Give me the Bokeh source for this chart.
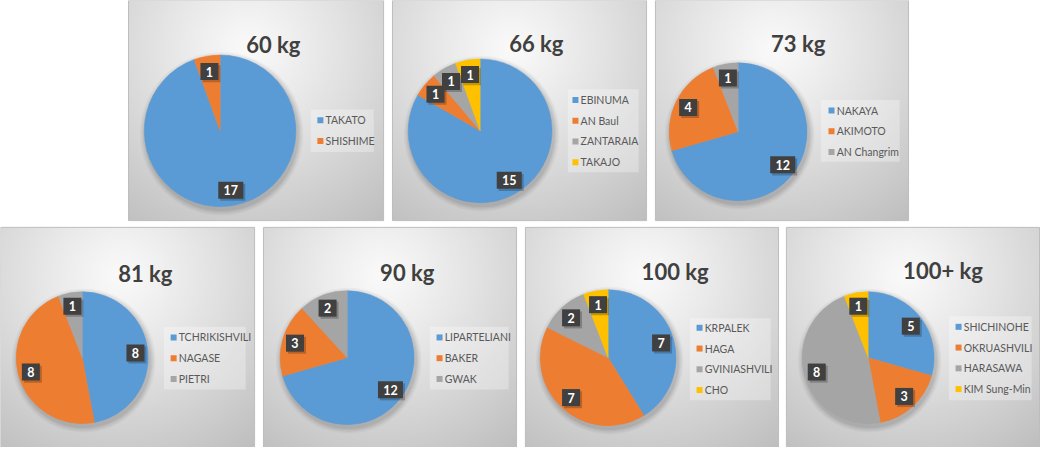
import numpy as np
from bokeh.plotting import figure
from bokeh.models import Range1d, ColumnDataSource
from bokeh.core.properties import value
from bokeh.embed import file_html
from bokeh.resources import INLINE

# ---------------- data ----------------
titles = ["60 kg", "66 kg", "73 kg", "81 kg", "90 kg", "100 kg", "100+ kg"]

names_60 = ["TAKATO", "SHISHIME"]
wins_60 = [17, 1]
names_66 = ["EBINUMA", "AN Baul", "ZANTARAIA", "TAKAJO"]
wins_66 = [15, 1, 1, 1]
names_73 = ["NAKAYA", "AKIMOTO", "AN Changrim"]
wins_73 = [12, 4, 1]
names_81 = ["TCHRIKISHVILI", "NAGASE", "PIETRI"]
wins_81 = [8, 8, 1]
names_90 = ["LIPARTELIANI", "BAKER", "GWAK"]
wins_90 = [12, 3, 2]
names_100 = ["KRPALEK", "HAGA", "GVINIASHVILI", "CHO"]
wins_100 = [7, 7, 2, 1]
names_100p = ["SHICHINOHE", "OKRUASHVILI", "HARASAWA", "KIM Sung-Min"]
wins_100p = [5, 3, 8, 1]

all_names = [names_60, names_66, names_73, names_81, names_90, names_100, names_100p]
all_wins = [wins_60, wins_66, wins_73, wins_81, wins_90, wins_100, wins_100p]

# ---------------- styles ----------------
slice_colors = ["#5B9BD5", "#ED7D31", "#A5A5A5", "#FFC000"]
FONT = "Lato"

# ---------------- layout (reference pixels, y downward) ----------------
W_REF, H_REF = 1056, 463
panels = [(130, 0, 389, 228), (398, 0, 656, 228), (665, 0, 922, 228),
          (0, 235, 258, 463), (267, 235, 524, 463), (533, 235, 790, 463),
          (798, 235, 1055, 463)]
pie_c = [(223, 135), (487, 135), (749, 136), (83, 370), (352, 370),
         (617, 370), (881, 370)]
pie_r = [77, 73, 70, 67, 68, 69, 67]
title_c = [(277, 46), (544, 45), (810, 45), (147, 283), (413, 282),
           (685, 281), (957, 280)]
legend_box = [(315, 113, 379, 157), (576, 92, 648, 178), (833, 103, 913, 167),
              (166, 338, 249, 403), (436, 338, 516, 403), (700, 329, 782, 414),
              (963, 327, 1047, 414)]
legend_y0 = [124, 103, 114, 349, 349, 339, 338]
legend_sq_x = [322, 581, 841, 173, 443, 707, 970]
legend_dy = 21.5
SCALE = 1040 / 1056


def Y(y):
    return H_REF - y


p = figure(width=1040, height=447, x_range=Range1d(0, W_REF), y_range=Range1d(0, H_REF),
           output_backend="svg", toolbar_location=None, x_axis_type=None,
           y_axis_type=None, min_border=0, outline_line_color=None,
           background_fill_color="white", border_fill_color="white")

# ---------------- panel backgrounds (radial gradient) ----------------
for (x0, y0, x1, y1) in panels:
    w, h = x1 - x0, y1 - y0
    cx, cy = 0.47 * w, 0.22 * h
    xs = np.arange(w) + 0.5
    ys_down = h - (np.arange(h) + 0.5)  # row 0 is bottom
    gx, gy = np.meshgrid(xs, ys_down)
    d = np.hypot(gx - cx, gy - cy)
    dmax = max(np.hypot(cx, h - cy), np.hypot(w - cx, h - cy))
    v = 250 - 60 * np.clip(d / dmax, 0, 1) ** 1.1
    img = np.empty((h, w), dtype=np.uint32)
    view = img.view(dtype=np.uint8).reshape((h, w, 4))
    view[:, :, 0] = v.astype(np.uint8)
    view[:, :, 1] = v.astype(np.uint8)
    view[:, :, 2] = v.astype(np.uint8)
    view[:, :, 3] = 255
    p.image_rgba(image=[img], x=x0, y=Y(y1), dw=w, dh=h)
    p.quad(left=x0, right=x1, top=Y(y0), bottom=Y(y1), fill_color=None,
           line_color="#bdbdbd", line_width=1)

# ---------------- pies ----------------
for i in range(len(titles)):
    names, wins = all_names[i], all_wins[i]
    cx, cy = pie_c[i]
    r = pie_r[i]
    tot = float(sum(wins))
    cum = np.concatenate([[0.0], np.cumsum(wins)]) / tot
    starts = np.pi / 2 - 2 * np.pi * cum[1:]
    ends = np.pi / 2 - 2 * np.pi * cum[:-1]
    mids = (starts + ends) / 2
    cols = slice_colors[:len(wins)]

    # soft shadow
    for k, a in [(6, 0.03), (4.5, 0.04), (3, 0.05), (1.5, 0.06)]:
        p.circle(x=cx + 1.5, y=Y(cy + 3), radius=(r + k) * SCALE, radius_units="screen",
                 fill_color="black", fill_alpha=a, line_color=None)

    src = ColumnDataSource(dict(x=[cx] * len(wins), y=[Y(cy)] * len(wins),
                                start=starts, end=ends, color=cols, name=names,
                                wins=wins))
    p.wedge(x="x", y="y", radius=r * SCALE, radius_units="screen",
            start_angle="start", end_angle="end", fill_color="color",
            line_color="color", line_width=0.5, source=src)

    # data labels
    lr = 0.81 * r
    lx = cx + lr * np.cos(mids)
    ly = Y(cy) + lr * np.sin(mids)
    labels = [str(w) for w in wins]
    bw = [11 + 7 * len(s) for s in labels]
    lsrc = ColumnDataSource(dict(x=lx, y=ly, sx=lx + 2, sy=ly - 2.2, w=bw, t=labels))
    p.rect(x="sx", y="sy", width="w", height=17, width_units="screen",
           height_units="screen", fill_color="black", fill_alpha=0.22,
           line_color=None, source=lsrc)
    p.rect(x="x", y="y", width="w", height=17, width_units="screen",
           height_units="screen", fill_color="#404040", line_color=None,
           source=lsrc)
    p.text(x="x", y="y", text="t", text_font=value(FONT), text_font_style="bold",
           text_font_size="12.5px", text_color="white", text_align="center",
           text_baseline="middle", source=lsrc)

    # legend
    bx0, by0, bx1, by1 = legend_box[i]
    p.quad(left=bx0, right=bx1, top=Y(by0), bottom=Y(by1), fill_color="white",
           fill_alpha=0.3, line_color=None)
    ey = [Y(legend_y0[i] + j * legend_dy) for j in range(len(names))]
    gsrc = ColumnDataSource(dict(sx=[legend_sq_x[i] + 2.8] * len(names), y=ey,
                                 tx=[legend_sq_x[i] + 8] * len(names),
                                 name=names, color=cols))
    p.rect(x="sx", y="y", width=6, height=6, width_units="screen",
           height_units="screen", fill_color="color", line_color=None, source=gsrc)
    p.text(x="tx", y="y", text="name", text_font=value(FONT), text_font_size="10.5px",
           text_color="#595959", text_align="left", text_baseline="middle",
           source=gsrc)

    # title
    tx, ty = title_c[i]
    p.text(x=[tx], y=[Y(ty)], text=[titles[i]], text_font=value(FONT),
           text_font_style="bold", text_font_size="22px", text_color="#404040",
           text_align="center", text_baseline="middle")

open("out.html", "w").write(file_html(p, INLINE))
